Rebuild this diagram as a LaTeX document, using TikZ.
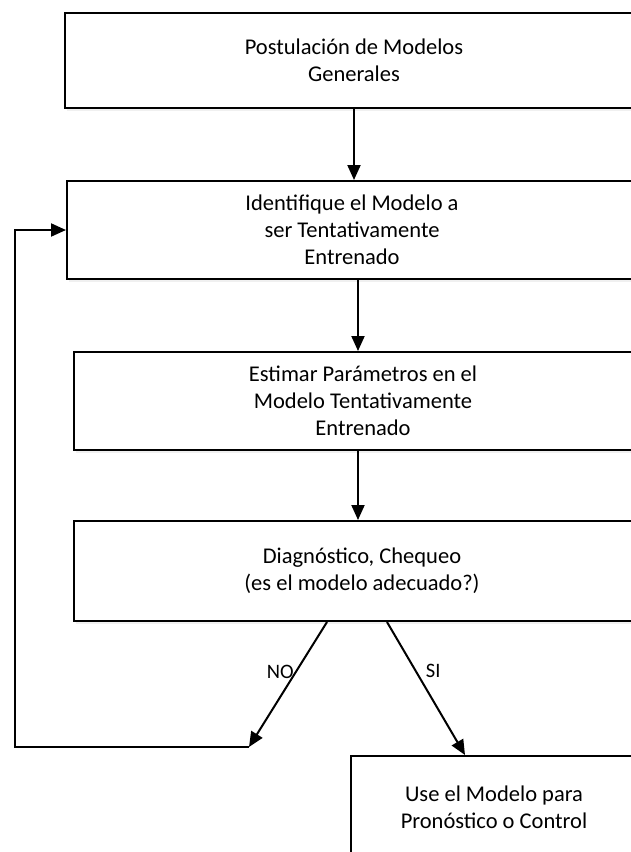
\documentclass[tikz,border=0pt]{standalone}
\usepackage{fontspec}
\setmainfont{Carlito}
\usetikzlibrary{arrows.meta,shadows}
\begin{document}
\begin{tikzpicture}[x=1pt, y=-1pt, >={Triangle[length=15pt,width=13pt]}, line width=2pt, line join=miter,
	caja/.style={draw, rectangle, inner sep=0pt, align=center, font=\fontsize{22.5}{27}\selectfont,
		fill=white, drop shadow={opacity=.12, shadow xshift=2pt, shadow yshift=-3pt}},
	rotulo/.style={font=\fontsize{20.5}{24}\selectfont, inner sep=0pt}]
	\useasboundingbox (0,0) rectangle (631,852);
	\clip (0,0) rectangle (631,852);
	\node[caja, minimum width=578, minimum height=95] (postula) at (354,60.5) {Postulación de Modelos\\Generales};
	\node[caja, minimum width=570, minimum height=98] (identif) at (352,230) {Identifique el Modelo a\\ser Tentativamente\\Entrenado};
	\node[caja, minimum width=578, minimum height=98] (estima) at (363,401) {Estimar Parámetros en el\\Modelo Tentativamente\\Entrenado};
	\node[caja, minimum width=576, minimum height=100] (diagn) at (362,571) {Diagnóstico, Chequeo\\(es el modelo adecuado?)};
	\node[caja, minimum width=286, minimum height=102] (usa) at (494,807) {Use el Modelo para\\Pronóstico o Control};
	\path
	(358,0) coordinate (eje)
	(249,747) coordinate (retorno)
	(15,747) coordinate (izq)
	;
	\draw[->] (postula.south) -- (postula.south |- identif.north);
	\draw[->] (identif.south -| eje) -- (estima.north -| eje);
	\draw[->] (estima.south -| eje) -- (diagn.north -| eje);
	\draw[->] ([xshift=-35pt]diagn.south) -- node[rotulo, pos=.4, left=1pt] {NO} (retorno);
	\draw[->] ([xshift=25pt]diagn.south) -- node[rotulo, pos=.37, right=9pt] {SI} ([xshift=-29pt]usa.north);
	\draw[->] (retorno) -- (izq) |- (identif.west);
\end{tikzpicture}
\end{document}
